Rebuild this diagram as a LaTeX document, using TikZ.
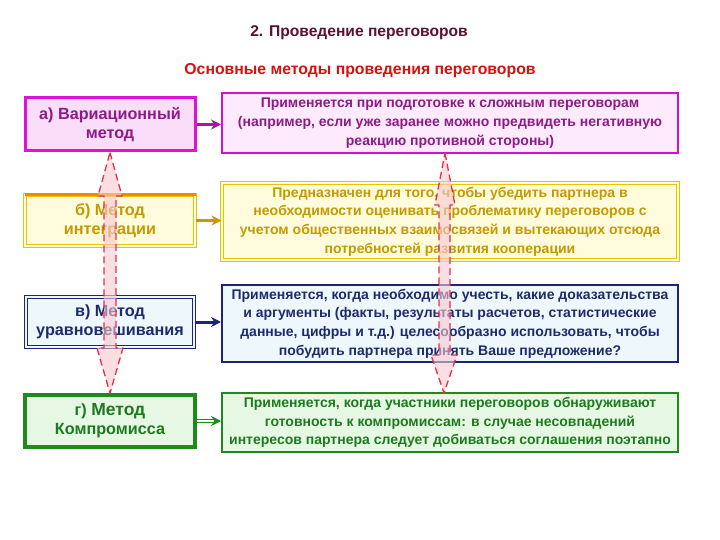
\documentclass[tikz,border=0pt]{standalone}
\usepackage{fontspec}
\setmainfont{Liberation Sans}
\usetikzlibrary{arrows.meta,calc}
\definecolor{magB}{HTML}{E010D8}
\definecolor{magT}{HTML}{8E1A86}
\definecolor{magF}{HTML}{F9DDF9}
\definecolor{magF2}{HTML}{FDEBFD}
\definecolor{ornB}{HTML}{F08A00}
\definecolor{yelB}{HTML}{E8C400}
\definecolor{yelT}{HTML}{C49A00}
\definecolor{yelF}{HTML}{FFFBDD}
\definecolor{navB}{HTML}{1E2478}
\definecolor{navT}{HTML}{1E2A6E}
\definecolor{navF}{HTML}{EEF8FC}
\definecolor{grnB}{HTML}{1E8A1E}
\definecolor{grnT}{HTML}{1E7A1E}
\definecolor{grnF}{HTML}{E6F8E4}
\definecolor{titT}{HTML}{5E1030}
\definecolor{subT}{HTML}{D81010}
\definecolor{arrF}{HTML}{F8C8D0}
\definecolor{arrB}{HTML}{E03050}
\tikzset{
  lbox/.style={minimum width=170pt, align=center, inner sep=0pt, font=\fontsize{16.2}{19}\selectfont\bfseries},
  rbox/.style={minimum width=456pt, align=center, inner sep=0pt, font=\fontsize{14}{18.7}\selectfont\bfseries},
  bigarr/.style={fill=arrF, fill opacity=0.6, draw=arrB, dash pattern=on 7pt off 4pt, line width=1.3pt, line join=round},
  conn/.style={-{Stealth[length=10pt,width=10pt]}, line width=3pt}
}
\begin{document}
\begin{tikzpicture}[x=1pt,y=-1pt]
\useasboundingbox (0,0) rectangle (720,540);
\fill[white] (0,0) rectangle (720,540);
\node[font=\fontsize{15.6}{18}\selectfont\bfseries, text=titT] (title) at (359,33) {2. Проведение переговоров};
\node[font=\fontsize{15.8}{18}\selectfont\bfseries, text=subT] (sub) at (360,71) {Основные методы проведения переговоров};
% left boxes
\node[lbox, minimum height=53pt, fill=magF, draw=magB, line width=3pt, text=magT] (a) at (110,124.5) {а) Вариационный\\метод};
\node[lbox, minimum height=51pt, fill=yelF, draw=yelB, double=yelF, double distance=1.5pt, line width=1pt, text=yelT] (b) at (110,220.5) {б) Метод\\интеграции};
\draw[ornB, line width=3pt] (b.north west) -- (b.north east);
\node[lbox, minimum height=52pt, fill=navF, text=navT] (c) at (110,322) {в) Метод\\уравновешивания};
\draw[navB, line width=1pt] (c.north west) rectangle (c.south east);
\draw[navB, line width=0.8pt] ([shift={(2.5,2.5)}]c.north west) rectangle ([shift={(-2.5,-2.5)}]c.south east);
\node[lbox, minimum height=52pt, fill=grnF, draw=grnB, line width=3.5pt, text=grnT] (d) at (110,421) {г) \fontsize{17.5}{19}\selectfont Метод\\Компромисса};
% right boxes
\node[rbox, minimum height=60pt, fill=magF2, draw=magB!80!magT, line width=2pt, text=magT] (r1) at (450,123) {Применяется при подготовке к сложным переговорам\\(например, если уже заранее можно предвидеть негативную\\реакцию противной стороны)};
\node[rbox, minimum height=77pt, fill=yelF, draw=yelB, double=yelF, double distance=1.5pt, line width=1pt, text=yelT] (r2) at (450,221.5) {Предназначен для того, чтобы убедить партнера в\\необходимости оценивать проблематику переговоров с\\учетом общественных взаимосвязей и вытекающих отсюда\\потребностей развития кооперации};
\node[rbox, minimum height=77pt, fill=navF, draw=navB, line width=2pt, text=navT] (r3) at (450,323.5) {Применяется, когда необходимо учесть, какие доказательства\\и аргументы (факты, результаты расчетов, статистические\\данные, цифры и т.д.) целесообразно использовать, чтобы\\побудить партнера принять Ваше предложение?};
\node[rbox, minimum height=59pt, fill=grnF, draw=grnB, line width=2pt, text=grnT] (r4) at (450,422.5) {Применяется, когда участники переговоров обнаруживают\\готовность к компромиссам: в случае несовпадений\\интересов партнера следует добиваться соглашения поэтапно};
% connectors
\draw[conn, magT!70!magB] (a.east) -- (a.east -| r1.west);
\draw[conn, yelT!85!ornB] (b.east) -- (b.east -| r2.west);
\draw[conn, navB] (c.east) -- (c.east -| r3.west);
\draw[-{Stealth[length=10pt,width=10pt]}, grnB, double=white, double distance=1.5pt, line width=0.9pt] (d.east) -- (d.east -| r4.west);
% big double arrows
\draw[bigarr] (a.south) -- (122,196) -- (116,196) -- (116,348) -- (123,348) -- (d.north) -- (97,348) -- (104,348) -- (104,196) -- (98,196) -- cycle;
\draw[bigarr] (445,153) -- (455,205) -- (450,205) -- (450,355) -- (457,355) -- (444,393) -- (431,355) -- (439,355) -- (439,205) -- (435,205) -- cycle;
\end{tikzpicture}
\end{document}
